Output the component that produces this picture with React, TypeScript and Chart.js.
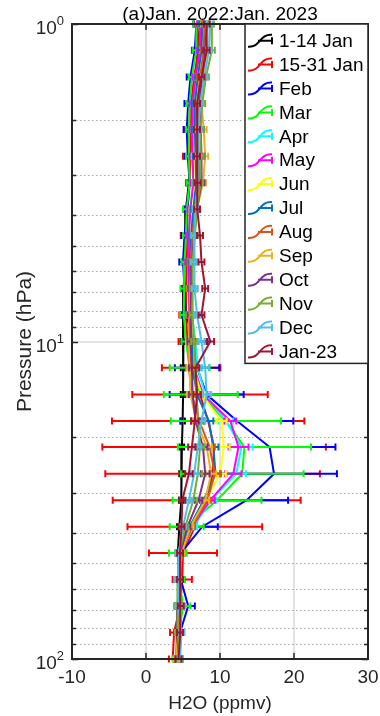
import React, { useEffect, useRef } from "react";
import { Chart, registerables } from "chart.js";

Chart.register(...registerables);

// ---------- data ----------
const pressureLevels = [1, 1.21, 1.47, 1.78, 2.15, 2.61, 3.16, 3.83, 4.64, 5.62, 6.81, 8.25, 10, 12.1, 14.7, 17.8, 21.5, 26.1, 31.6, 38.3, 46.4, 56.2, 68.1, 82.5, 100];

const seriesLabels = ["1-14 Jan", "15-31 Jan", "Feb", "Mar", "Apr", "May", "Jun", "Jul", "Aug", "Sep", "Oct", "Nov", "Dec", "Jan-23"];
const seriesColors = ["#000000", "#FF0000", "#0000FF", "#00FF00", "#00FFFF", "#FF00FF", "#FFFF00", "#0072BD", "#D95319", "#EDB120", "#7E2F8E", "#77AC30", "#4DBEEE", "#A2142F"];

const h2oJan1to14 = [7.3, 7.0, 6.7, 6.4, 6.2, 6.0, 5.8, 5.4, 5.3, 5.2, 5.1, 5.05, 5.0, 5.0, 5.0, 4.95, 4.85, 4.8, 4.75, 4.5, 4.3, 4.4, 4.3, 4.2, 4.1];
const h2oJan15to31 = [6.9, 7.1, 6.5, 6.1, 6.1, 6.0, 5.9, 5.6, 5.6, 5.5, 5.4, 5.4, 5.6, 6.1, 7.3, 8.4, 9.2, 9.0, 8.2, 6.6, 5.0, 4.9, 4.6, 3.8, 3.6];
const h2oFeb = [6.8, 6.6, 6.0, 5.7, 5.5, 5.65, 5.9, 5.6, 5.2, 5.0, 5.2, 5.4, 6.6, 6.9, 8.2, 12.3, 16.7, 17.3, 13.6, 7.6, 4.7, 4.7, 5.7, 4.6, 4.3];
const h2oMar = [6.8, 6.8, 6.2, 5.9, 5.8, 5.8, 5.9, 5.5, 5.4, 5.2, 5.15, 5.1, 5.4, 5.9, 7.4, 10.8, 13.3, 13.0, 9.6, 5.5, 4.3, 4.5, 5.0, 4.5, 4.0];
const h2oApr = [7.5, 7.4, 6.8, 6.4, 6.3, 6.3, 6.4, 6.0, 5.8, 5.8, 5.9, 6.2, 6.7, 7.0, 8.0, 10.8, 12.9, 12.2, 8.8, 6.4, 4.6, 4.5, 4.7, 4.6, 4.3];
const h2oMay = [7.3, 7.3, 6.7, 6.3, 6.3, 6.3, 6.4, 6.0, 5.8, 5.7, 5.8, 5.9, 6.2, 6.5, 7.7, 11.4, 12.5, 11.8, 8.7, 6.2, 4.7, 4.6, 4.6, 4.5, 4.2];
const h2oJun = [7.7, 7.6, 7.0, 6.7, 6.6, 6.6, 6.7, 6.3, 6.1, 6.0, 6.0, 6.1, 6.3, 6.4, 7.5, 10.2, 10.5, 10.0, 8.1, 6.0, 4.8, 4.6, 4.6, 4.5, 4.4];
const h2oJul = [7.6, 7.5, 7.0, 6.6, 6.6, 6.7, 6.8, 6.4, 6.1, 5.9, 5.9, 6.0, 6.2, 6.3, 6.9, 8.5, 9.1, 9.4, 7.8, 5.9, 4.7, 4.6, 4.5, 4.5, 4.3];
const h2oAug = [7.9, 7.8, 7.3, 6.9, 7.0, 7.1, 7.2, 6.6, 6.3, 6.0, 5.9, 5.8, 5.8, 5.8, 6.2, 7.2, 8.6, 9.3, 8.3, 6.2, 4.8, 4.6, 4.5, 4.4, 4.2];
const h2oSep = [8.1, 8.2, 7.8, 7.5, 7.8, 8.0, 7.7, 6.9, 6.5, 6.2, 6.0, 5.9, 5.8, 5.9, 6.0, 6.8, 8.2, 8.8, 8.0, 6.0, 4.8, 4.5, 4.4, 4.3, 4.1];
const h2oOct = [8.2, 8.0, 7.6, 7.2, 7.4, 7.5, 7.5, 6.9, 6.5, 6.2, 6.1, 6.0, 6.0, 6.2, 6.3, 6.7, 7.7, 8.0, 7.1, 5.6, 4.6, 4.4, 4.3, 4.2, 4.5];
const h2oNov = [8.8, 8.9, 8.1, 7.6, 7.4, 7.4, 7.3, 6.9, 6.6, 6.3, 6.3, 6.3, 6.5, 6.6, 6.8, 7.1, 7.3, 7.0, 6.4, 5.3, 4.5, 4.3, 4.2, 4.3, 4.6];
const h2oDec = [8.6, 8.5, 7.9, 7.3, 7.1, 7.0, 7.0, 6.7, 6.5, 6.5, 6.6, 6.9, 7.5, 8.0, 8.2, 7.5, 7.0, 6.5, 5.8, 5.0, 4.4, 4.3, 4.4, 4.8, 4.6];
const h2oJan23 = [8.2, 8.2, 7.5, 6.9, 6.9, 6.9, 7.0, 6.9, 7.3, 7.5, 8.0, 7.5, 8.7, 6.7, 6.9, 6.6, 6.2, 5.8, 4.9, 4.8, 4.6, 4.6, 4.7, 4.6, 4.4];

const errJan1to14 = [0.3, 0.3, 0.3, 0.3, 0.3, 0.3, 0.3, 0.3, 0.3, 0.3, 0.3, 0.3, 0.3, 0.3, 0.3, 0.3, 0.3, 0.3, 0.3, 0.3, 0.3, 0.3, 0.3, 0.3, 0.3];
const errJan15to31 = [0.4, 0.6, 0.4, 0.4, 1.0, 1.0, 0.5, 0.5, 0.9, 0.6, 0.6, 0.9, 1.2, 3.95, 9.15, 13.0, 15.1, 14.5, 12.7, 9.1, 4.6, 1.3, 0.6, 0.55, 0.5];
const errFeb = [0.4, 0.4, 0.5, 0.5, 0.4, 0.4, 0.4, 0.4, 0.4, 0.5, 0.4, 0.4, 1.7, 3.0, 5.0, 7.6, 8.9, 8.5, 5.6, 2.1, 0.6, 0.5, 0.9, 0.4, 0.4];
const errMar = [0.4, 0.5, 0.4, 0.4, 0.4, 0.4, 0.4, 0.5, 0.4, 0.4, 0.5, 0.5, 0.6, 2.7, 5.0, 7.45, 9.0, 8.3, 6.0, 2.3, 1.2, 0.7, 1.0, 0.4, 0.4];
const errApr = [0.4, 0.4, 0.4, 0.4, 0.4, 0.4, 0.4, 0.4, 0.4, 0.4, 0.4, 0.4, 0.4, 0.6, 0.8, 1.0, 1.5, 1.3, 0.7, 0.5, 0.4, 0.4, 0.4, 0.4, 0.4];
const errMay = [0.4, 0.4, 0.4, 0.4, 0.4, 0.4, 0.4, 0.4, 0.4, 0.4, 0.4, 0.4, 0.4, 0.5, 0.6, 0.8, 1.35, 1.1, 0.6, 0.4, 0.4, 0.4, 0.4, 0.4, 0.4];
const errJun = [0.4, 0.4, 0.4, 0.4, 0.4, 0.4, 0.4, 0.4, 0.4, 0.4, 0.4, 0.4, 0.4, 0.4, 0.5, 0.7, 0.8, 0.8, 0.5, 0.4, 0.4, 0.4, 0.4, 0.4, 0.4];
const errJul = [0.4, 0.4, 0.4, 0.4, 0.4, 0.4, 0.4, 0.4, 0.4, 0.4, 0.4, 0.4, 0.4, 0.4, 0.5, 0.6, 0.7, 0.7, 0.5, 0.4, 0.4, 0.4, 0.4, 0.4, 0.4];
const errAug = [0.4, 0.4, 0.4, 0.4, 0.4, 0.4, 0.4, 0.4, 0.4, 0.4, 0.4, 0.4, 0.4, 0.4, 0.5, 0.6, 0.7, 0.7, 0.5, 0.4, 0.4, 0.4, 0.4, 0.4, 0.4];
const errSep = [0.4, 0.4, 0.4, 0.4, 0.4, 0.4, 0.4, 0.4, 0.4, 0.4, 0.4, 0.4, 0.4, 0.4, 0.5, 0.6, 0.7, 0.7, 0.5, 0.4, 0.4, 0.4, 0.4, 0.4, 0.4];
const errOct = [0.4, 0.4, 0.4, 0.4, 0.4, 0.4, 0.4, 0.4, 0.4, 0.4, 0.4, 0.4, 0.4, 0.4, 0.5, 0.6, 0.6, 0.6, 0.5, 0.4, 0.4, 0.4, 0.4, 0.4, 0.4];
const errNov = [0.4, 0.4, 0.4, 0.4, 0.4, 0.4, 0.4, 0.4, 0.4, 0.4, 0.4, 0.4, 0.4, 0.4, 0.5, 0.6, 0.6, 0.6, 0.5, 0.4, 0.4, 0.4, 0.4, 0.4, 0.4];
const errDec = [0.4, 0.4, 0.4, 0.4, 0.4, 0.4, 0.4, 0.4, 0.4, 0.4, 0.4, 0.4, 0.4, 0.5, 0.5, 0.5, 0.5, 0.5, 0.4, 0.4, 0.4, 0.4, 0.4, 0.4, 0.4];
const errJan23 = [0.4, 0.4, 0.4, 0.4, 0.4, 0.4, 0.4, 0.4, 0.4, 0.4, 0.4, 0.4, 0.5, 0.5, 0.5, 0.5, 0.5, 0.5, 0.4, 0.4, 0.4, 0.4, 0.4, 0.4, 0.4];

const seriesValues = [h2oJan1to14, h2oJan15to31, h2oFeb, h2oMar, h2oApr, h2oMay, h2oJun, h2oJul, h2oAug, h2oSep, h2oOct, h2oNov, h2oDec, h2oJan23];
const seriesErrors = [errJan1to14, errJan15to31, errFeb, errMar, errApr, errMay, errJun, errJul, errAug, errSep, errOct, errNov, errDec, errJan23];

const xTickValues = [-10, 0, 10, 20, 30];
const xGridValues = [0, 10, 20];
const yMajorTicks = [1, 10, 100];
const yTickExponents = ["0", "1", "2"];
const yMinorTicks = [2, 3, 4, 5, 6, 7, 8, 9, 20, 30, 40, 50, 60, 70, 80, 90];

const titleText = "(a)Jan. 2022:Jan. 2023";
const xAxisTitle = "H2O (ppmv)";
const yAxisTitle = "Pressure (hPa)";

const FONT = '"Liberation Sans", Arial, Helvetica, sans-serif';
const AXIS_COLOR = "#262626";

const profilePlugin = {
  id: "profilePlugin",
  beforeDatasetsDraw(chart: any) {
    const { ctx, chartArea: a, scales } = chart;
    const x = scales.x, y = scales.y;
    ctx.save();
    ctx.strokeStyle = "#dadada";
    ctx.lineWidth = 1.5;
    ctx.setLineDash([]);
    xGridValues.forEach((v) => {
      const px = Math.round(x.getPixelForValue(v));
      ctx.beginPath();
      ctx.moveTo(px, a.top);
      ctx.lineTo(px, a.bottom);
      ctx.stroke();
    });
    yMajorTicks.slice(1, -1).forEach((v) => {
      const py = Math.round(y.getPixelForValue(v));
      ctx.beginPath();
      ctx.moveTo(a.left, py);
      ctx.lineTo(a.right, py);
      ctx.stroke();
    });
    ctx.strokeStyle = "#a6a6a6";
    ctx.lineWidth = 1;
    ctx.setLineDash([1.5, 2.5]);
    yMinorTicks.forEach((v) => {
      const py = Math.round(y.getPixelForValue(v)) + 0.5;
      ctx.beginPath();
      ctx.moveTo(a.left, py);
      ctx.lineTo(a.right, py);
      ctx.stroke();
    });
    ctx.restore();
  },
  afterDatasetDraw(chart: any, args: any) {
    const { ctx, scales } = chart;
    const x = scales.x, y = scales.y;
    const ds = chart.data.datasets[args.index];
    const errs: number[] = ds.xErr;
    ctx.save();
    ctx.strokeStyle = ds.borderColor;
    ctx.lineWidth = 2;
    ctx.setLineDash([]);
    ds.data.forEach((pt: any, i: number) => {
      const e = errs[i];
      const py = y.getPixelForValue(pt.y);
      const l = x.getPixelForValue(pt.x - e);
      const r = x.getPixelForValue(pt.x + e);
      ctx.beginPath();
      ctx.moveTo(l, py);
      ctx.lineTo(r, py);
      ctx.moveTo(l, py - 3.5);
      ctx.lineTo(l, py + 3.5);
      ctx.moveTo(r, py - 3.5);
      ctx.lineTo(r, py + 3.5);
      ctx.stroke();
    });
    ctx.restore();
  },
  afterDraw(chart: any) {
    const { ctx, chartArea: a, scales } = chart;
    const x = scales.x, y = scales.y;
    ctx.save();
    ctx.setLineDash([]);
    ctx.strokeStyle = AXIS_COLOR;
    ctx.lineWidth = 1.5;
    xTickValues.forEach((v) => {
      const px = Math.round(x.getPixelForValue(v));
      ctx.beginPath();
      ctx.moveTo(px, a.bottom);
      ctx.lineTo(px, a.bottom - 6);
      ctx.moveTo(px, a.top);
      ctx.lineTo(px, a.top + 6);
      ctx.stroke();
    });
    const yTick = (v: number, len: number) => {
      const py = Math.round(y.getPixelForValue(v)) + 0.5;
      ctx.beginPath();
      ctx.moveTo(a.left, py);
      ctx.lineTo(a.left + len, py);
      ctx.moveTo(a.right, py);
      ctx.lineTo(a.right - len, py);
      ctx.stroke();
    };
    yMajorTicks.forEach((v) => yTick(v, 6));
    yMinorTicks.forEach((v) => yTick(v, 4));
    ctx.lineWidth = 2;
    ctx.strokeStyle = AXIS_COLOR;
    ctx.strokeRect(a.left, a.top, a.right - a.left, a.bottom - a.top);

    ctx.fillStyle = AXIS_COLOR;
    ctx.font = `19px ${FONT}`;
    ctx.textAlign = "center";
    ctx.textBaseline = "alphabetic";
    xTickValues.forEach((v) => {
      ctx.fillText(String(v), x.getPixelForValue(v), a.bottom + 24);
    });
    yMajorTicks.forEach((v, i) => {
      const py = y.getPixelForValue(v);
      ctx.font = `13px ${FONT}`;
      ctx.textAlign = "right";
      const ew = ctx.measureText(yTickExponents[i]).width;
      const right = a.left - 8;
      ctx.fillText(yTickExponents[i], right, py + 1);
      ctx.font = `19px ${FONT}`;
      ctx.fillText("10", right - ew, py + 10);
    });
    ctx.textAlign = "center";
    ctx.font = `19px ${FONT}`;
    ctx.fillText(xAxisTitle, (a.left + a.right) / 2, a.bottom + 50);
    ctx.save();
    ctx.font = `21px ${FONT}`;
    ctx.translate(31, (a.top + a.bottom) / 2);
    ctx.rotate(-Math.PI / 2);
    ctx.fillText(yAxisTitle, 0, 0);
    ctx.restore();
    ctx.fillStyle = "#000";
    ctx.font = `19px ${FONT}`;
    ctx.fillText(titleText, (a.left + a.right) / 2, a.top - 4);

    const lx = 245, ly = a.top, lw = a.right - 245, step = 23.9;
    const lh = 16.7 + step * (seriesLabels.length - 1) + 12;
    ctx.fillStyle = "#ffffff";
    ctx.fillRect(lx, ly, lw, lh);
    ctx.lineWidth = 1.5;
    ctx.strokeStyle = AXIS_COLOR;
    ctx.strokeRect(lx, ly, lw, lh);
    ctx.font = `19px ${FONT}`;
    ctx.textAlign = "left";
    ctx.textBaseline = "middle";
    chart.data.datasets.forEach((ds: any, i: number) => {
      const yc = ly + 16.7 + i * step;
      const x0 = lx + 3;
      ctx.strokeStyle = ds.borderColor;
      ctx.lineWidth = 2;
      ctx.beginPath();
      ctx.moveTo(x0, yc + 6);
      ctx.bezierCurveTo(x0 + 13, yc + 7, x0 + 11, yc - 7, x0 + 24, yc - 6);
      ctx.stroke();
      ctx.beginPath();
      ctx.moveTo(x0 + 10, yc);
      ctx.lineTo(x0 + 24, yc);
      ctx.moveTo(x0 + 24, yc - 3.5);
      ctx.lineTo(x0 + 24, yc + 3.5);
      ctx.stroke();
      ctx.fillStyle = "#000";
      ctx.fillText(ds.label, lx + 34, yc + 1);
    });
    ctx.restore();
  },
};

export default function App() {
  const canvasRef = useRef<HTMLCanvasElement | null>(null);

  useEffect(() => {
    const canvas = canvasRef.current;
    if (!canvas) return;
    const n = seriesLabels.length;
    const datasets = seriesLabels.map((label, i) => ({
      label,
      data: pressureLevels.map((p, k) => ({ x: seriesValues[i][k], y: p })),
      xErr: seriesErrors[i],
      borderColor: seriesColors[i],
      backgroundColor: seriesColors[i],
      borderWidth: 2,
      showLine: true,
      pointRadius: 0,
      tension: 0,
      order: n - i,
      clip: 4,
    }));
    const chart = new Chart(canvas, {
      type: "scatter",
      data: { datasets } as any,
      options: {
        responsive: false,
        animation: false,
        devicePixelRatio: 1,
        events: [],
        layout: { padding: { left: 72, right: 12, top: 24, bottom: 57 } },
        plugins: {
          legend: { display: false },
          tooltip: { enabled: false },
        },
        scales: {
          x: { type: "linear", min: -10, max: 30, display: false },
          y: { type: "logarithmic", min: 1, max: 100, reverse: true, display: false },
        },
      } as any,
      plugins: [profilePlugin],
    });
    return () => chart.destroy();
  }, []);

  return (
    <div style={{ position: "absolute", left: 0, top: 0, width: 380, height: 716, background: "#fff" }}>
      <canvas ref={canvasRef} width={380} height={716} style={{ display: "block", width: 380, height: 716 }} />
    </div>
  );
}
